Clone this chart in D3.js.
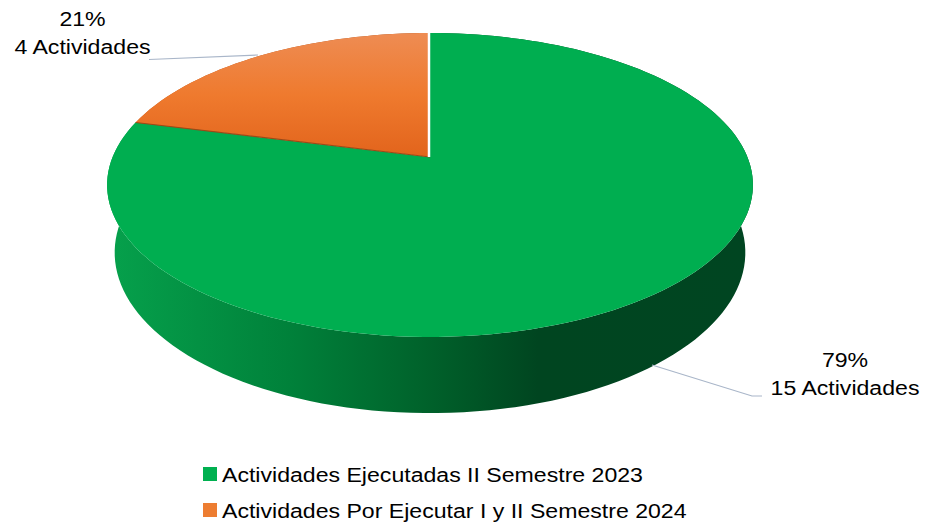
<!DOCTYPE html>
<html>
<head>
<meta charset="utf-8">
<script src="https://cdn.jsdelivr.net/npm/d3@7"></script>
<style>
  body { margin: 0; background: #fff; }
  text { font-family: "Liberation Sans", Arial, sans-serif; fill: #000; }
</style>
</head>
<body>
<div id="chart"></div>
<script>
// data
const categories = ['Actividades Ejecutadas II Semestre 2023', 'Actividades Por Ejecutar I y II Semestre 2024'];
const values = [15, 4];
const unitLabel = 'Actividades';
const topColors = ['#00AE50', null];
const legendColors = ['#00B050', '#ED7D31'];

const width = 930, height = 527;

// 3D projection settings (tilted disk with perspective)
const cx = 430, cy = 157, R = 317.4;
const sA = 0.4625, cA = Math.sqrt(1 - sA * sA);
const camD = 4.814, depth = 0.242;

function project(r, ang, z) {
  const X = r * Math.sin(ang), Yw = -r * Math.cos(ang);
  const ys = Yw * sA - z * cA;
  const d = Yw * cA + z * sA;
  const f = camD / (camD - d);
  return [cx + R * X * f, cy + R * ys * f];
}

const svg = d3.select('#chart').append('svg')
  .attr('width', width)
  .attr('height', height)
  .attr('viewBox', `0 0 ${width} ${height}`);

const defs = svg.append('defs');

// side gradient for the green slice (dark towards the right)
const sideGrad = defs.append('linearGradient')
  .attr('id', 'side-green')
  .attr('gradientUnits', 'userSpaceOnUse')
  .attr('x1', 107).attr('x2', 760).attr('y1', 0).attr('y2', 0);
[[0, '#06A14C'], [0.28, '#00813A'], [0.5, '#00602A'], [0.66, '#004520'], [1, '#004521']]
  .forEach(([o, c]) => sideGrad.append('stop').attr('offset', o).attr('stop-color', c));

const sideOrange = defs.append('linearGradient')
  .attr('id', 'side-orange')
  .attr('gradientUnits', 'userSpaceOnUse')
  .attr('x1', 107).attr('x2', 760).attr('y1', 0).attr('y2', 0);
[[0, '#C85A18'], [1, '#7A3208']]
  .forEach(([o, c]) => sideOrange.append('stop').attr('offset', o).attr('stop-color', c));

const topOrange = defs.append('linearGradient')
  .attr('id', 'top-orange')
  .attr('gradientUnits', 'userSpaceOnUse')
  .attr('x1', 0).attr('x2', 0).attr('y1', 33).attr('y2', 157);
[[0, '#EE8C53'], [0.5, '#EF7A2E'], [1, '#E2641C']]
  .forEach(([o, c]) => topOrange.append('stop').attr('offset', o).attr('stop-color', c));

const pie = d3.pie().sort(null).startAngle(0).endAngle(2 * Math.PI);
const arcs = pie(values);
const total = d3.sum(values);
const pct = d3.format('.0%');

const line = d3.line();
const steps = 180;

function arcPoints(a0, a1, z) {
  const n = Math.max(2, Math.ceil(steps * (a1 - a0) / (2 * Math.PI)));
  return d3.range(n + 1).map(i => project(1, a0 + (a1 - a0) * i / n, z));
}

// side walls: many small quads in one path
function wallPath(a0, a1) {
  const top = arcPoints(a0, a1, 0);
  const bot = arcPoints(a0, a1, -depth);
  let p = '';
  for (let i = 0; i < top.length - 1; i++) {
    p += line([top[i], top[i + 1], bot[i + 1], bot[i]]) + 'Z';
  }
  return p;
}

const g = svg.append('g');

// orange wall first (back), then green
g.selectAll('path.wall')
  .data(arcs.slice().reverse())
  .join('path')
  .attr('class', 'wall')
  .attr('d', d => wallPath(d.startAngle, d.endAngle))
  .attr('fill', d => d.index === 0 ? 'url(#side-green)' : 'url(#side-orange)');

// top faces
g.selectAll('path.top')
  .data(arcs)
  .join('path')
  .attr('class', 'top')
  .attr('d', d => line([project(0, 0, 0), ...arcPoints(d.startAngle, d.endAngle, 0)]) + 'Z')
  .attr('fill', d => d.index === 0 ? topColors[0] : 'url(#top-orange)');

// slice edges
const c0 = project(0, 0, 0);
g.append('path')
  .attr('d', line([c0, project(1, arcs[1].startAngle, 0)]))
  .attr('stroke', '#9A4A18')
  .attr('stroke-width', 1.2)
  .attr('fill', 'none');
g.append('path')
  .attr('d', line([[c0[0] - 1, c0[1]], [project(1, 0, 0)[0] - 1, project(1, 0, 0)[1] - 1]]))
  .attr('stroke', '#fff')
  .attr('stroke-width', 2.5)
  .attr('fill', 'none');

// leader lines
const leaders = [
  [[652, 365], [752, 396], [762, 396]],
  [[258, 55], [149, 59.5]]
];
g.selectAll('path.leader')
  .data(leaders)
  .join('path')
  .attr('class', 'leader')
  .attr('d', d => line(d))
  .attr('stroke', '#A9B6C9')
  .attr('stroke-width', 1.2)
  .attr('fill', 'none');

// data labels
const labelPos = [[845, 367], [82.5, 26]];
const labels = g.selectAll('g.label')
  .data(arcs)
  .join('g')
  .attr('class', 'label')
  .attr('transform', d => `translate(${labelPos[d.index][0]},${labelPos[d.index][1]}) scale(1.1,1)`);
labels.append('text')
  .attr('text-anchor', 'middle')
  .style('font-size', '21px')
  .text(d => pct(d.value / total));
labels.append('text')
  .attr('text-anchor', 'middle')
  .attr('y', 28)
  .style('font-size', '21px')
  .text(d => `${d.value} ${unitLabel}`);

// legend
const legend = svg.append('g').attr('class', 'legend');
const items = legend.selectAll('g')
  .data(categories)
  .join('g')
  .attr('transform', (d, i) => `translate(203,${467 + i * 36})`);
items.append('rect')
  .attr('width', 14)
  .attr('height', 14)
  .attr('fill', (d, i) => legendColors[i]);
items.append('text')
  .attr('transform', 'translate(19,15) scale(1.1,1)')
  .style('font-size', '21px')
  .text(d => d);
</script>
</body>
</html>
